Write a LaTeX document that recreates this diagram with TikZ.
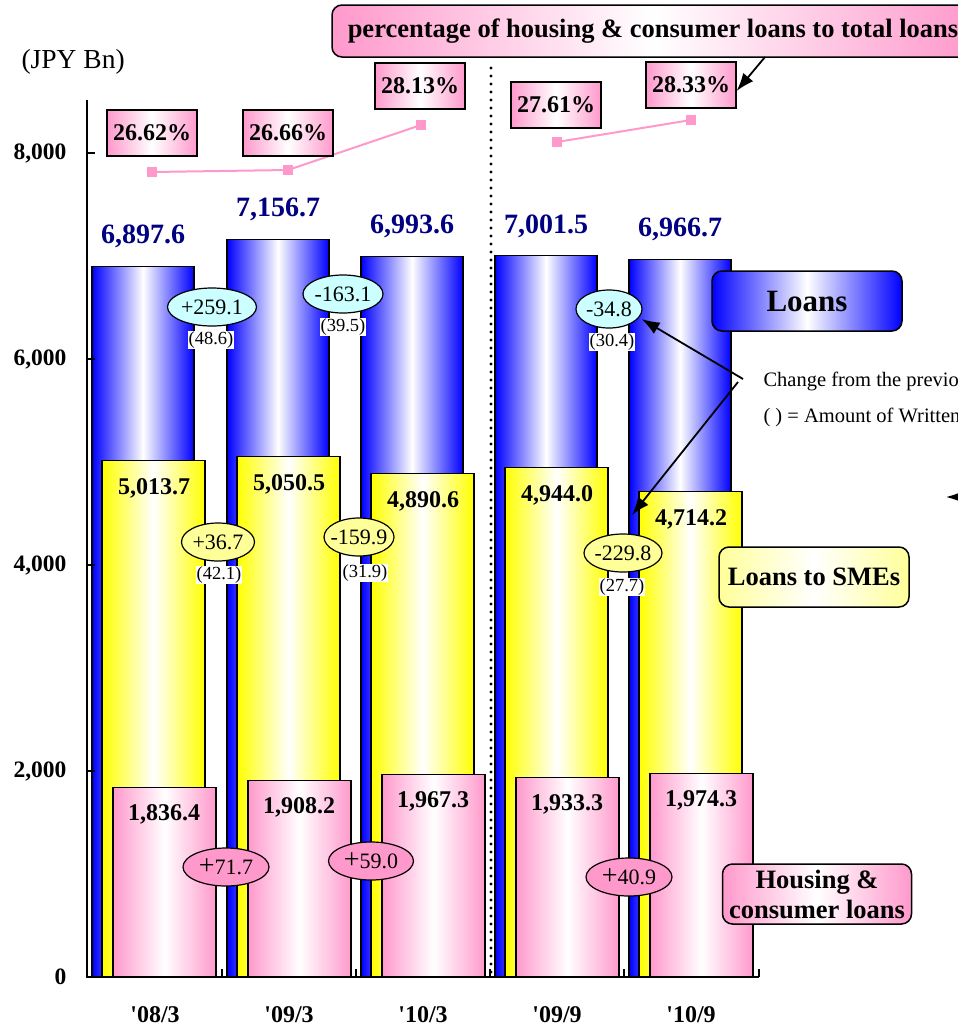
\documentclass[tikz,border=0pt]{standalone}
\usepackage{fontspec}
\setmainfont{Liberation Serif}
\usetikzlibrary{shapes.geometric,arrows.meta,calc}
\definecolor{navy}{RGB}{0,0,128}
\definecolor{pk}{RGB}{255,153,204}
\definecolor{bl}{RGB}{0,0,255}
\definecolor{yl}{RGB}{255,255,0}
\definecolor{lcyan}{RGB}{204,255,255}
\definecolor{lyel}{RGB}{255,255,153}
\newcommand{\bigplus}{{\fontsize{28}{28}\selectfont +}}
\tikzset{
  barline/.style={draw=black, line width=1.2pt},
  bluebar/.style={barline, left color=bl, right color=bl, middle color=white},
  yelbar/.style={barline, left color=yl, right color=yl, middle color=white},
  pinkbar/.style={barline, left color=pk, right color=pk, middle color=white},
  valL/.style={font=\fontsize{28}{30}\selectfont\bfseries, text=navy},
  valB/.style={font=\fontsize{24}{26}\selectfont\bfseries},
  chg/.style={ellipse, draw=black, line width=1.2pt, font=\fontsize{22}{23}\selectfont, inner sep=0pt, minimum height=38},
  chgC/.style={chg, fill=lcyan},
  chgY/.style={chg, fill=lyel},
  chgP/.style={chg, fill=pk},
  wo/.style={fill=white, inner sep=1pt, font=\fontsize{18.5}{19}\selectfont},
  pct/.style={draw=black, line width=1.2pt, left color=pk, right color=pk, middle color=white, minimum width=90, minimum height=46, font=\fontsize{24}{26}\selectfont\bfseries, inner sep=0pt},
  legend/.style={draw=black, line width=1.5pt, rounded corners=10, minimum height=60, inner sep=1pt},
  ytick/.style={font=\fontsize{23.5}{25}\selectfont\bfseries, anchor=east},
  cat/.style={font=\fontsize{24}{26}\selectfont\bfseries},
  arr/.style={line width=1.8pt, -{Latex[length=18pt,width=13pt]}},
  mk/.style={fill=pk, draw=none},
}
\begin{document}
\begin{tikzpicture}[x=1pt,y=-1pt]
\useasboundingbox (0,0) rectangle (958,1029);
\clip (0,0) rectangle (958,1029);

% bars
\foreach \c/\L/\S/\H/\tL/\tS/\tH [count=\i] in {
 154/6897.6/5013.7/1836.4/{6,897.6}/{5,013.7}/{1,836.4},
 289/7156.7/5050.5/1908.2/{7,156.7}/{5,050.5}/{1,908.2},
 423/6993.6/4890.6/1967.3/{6,993.6}/{4,890.6}/{1,967.3},
 557/7001.5/4944.0/1933.3/{7,001.5}/{4,944.0}/{1,933.3},
 691/6966.7/4714.2/1974.3/{6,966.7}/{4,714.2}/{1,974.3}}{
  \path[bluebar] ({\c-62},977) rectangle ({\c+40},{977-\L*0.103});
  \path[yelbar] ({\c-52},977) rectangle ({\c+51},{977-\S*0.103});
  \path[pinkbar] ({\c-41},977) rectangle ({\c+62},{977-\H*0.103});
  \node[valL] (lv\i) at ({\c-11},{977-\L*0.103-30}) {\tL};
  \node[valB] (sv\i) at ({\c},{977-\S*0.103+28}) {\tS};
  \node[valB] (hv\i) at ({\c+10},{977-\H*0.103+27}) {\tH};
}

% axes
\draw[line width=1.5pt] (87,100) -- (87,977) -- (759,977);
\foreach \v/\t [count=\i] in {0/0,2000/{2,000},4000/{4,000},6000/{6,000},8000/{8,000}}{
  \draw[line width=1.2pt] (87,{977-\v*0.103}) -- (95,{977-\v*0.103});
  \node[ytick] (yt\i) at (70,{977-\v*0.103}) {\t};
}
\foreach \x in {222,356,490,624,759}{
  \draw[line width=1.2pt] (\x,977) -- (\x,969);
}
\node[font=\fontsize{27.5}{29}\selectfont, anchor=west] (unit) at (18,62) {(JPY Bn)};

% category labels
\node[cat] (c1) at (155,1015) {\textquotesingle08/3};
\node[cat] (c2) at (289,1015) {\textquotesingle09/3};
\node[cat] (c3) at (423,1015) {\textquotesingle10/3};
\node[cat] (c4) at (557,1015) {\textquotesingle09/9};
\node[cat] (c5) at (691,1015) {\textquotesingle10/9};

% dotted separator
\draw[line width=3.4pt, line cap=round, dash pattern=on 0pt off 8pt] (491,68) -- (491,975);

% percentage line
\coordinate (p1) at (152,172);
\coordinate (p2) at (288,170);
\coordinate (p3) at (421,125);
\coordinate (p4) at (557,142);
\coordinate (p5) at (691,120);
\draw[pk, line width=2pt] (p1) -- (p2) -- (p3);
\draw[pk, line width=2pt] (p4) -- (p5);
\foreach \p in {p1,p2,p3,p4,p5}{
  \fill[mk] ($(\p)+(-5,-5)$) rectangle ($(\p)+(5,5)$);
}

% percentage boxes
\node[pct] (q1) at (152,133) {26.62\%};
\node[pct] (q2) at (288,133) {26.66\%};
\node[pct] (q3) at (420,86) {28.13\%};
\node[pct] (q4) at (556,105) {27.61\%};
\node[pct] (q5) at (691,85) {28.33\%};

% change ellipses
\node[chgC, minimum width=89] (e1) at (212,307) {\makebox[0pt]{+259.1}};
\node[chgC, minimum width=80] (e2) at (343,294) {\makebox[0pt]{-163.1}};
\node[chgC, minimum width=66] (e3) at (609,309) {\makebox[0pt]{-34.8}};
\node[wo] (w1) at (211,340) {(48.6)};
\node[wo] (w2) at (343,327) {(39.5)};
\node[wo] (w3) at (612,342) {(30.4)};

\node[chgY, minimum width=73] (f1) at (218,542) {\makebox[0pt]{+36.7}};
\node[chgY, minimum width=70] (f2) at (359,537) {\makebox[0pt]{-159.9}};
\node[chgY, minimum width=78] (f3) at (623,553) {\makebox[0pt]{-229.8}};
\node[wo] (x1) at (219,575) {(42.1)};
\node[wo] (x2) at (365,573) {(31.9)};
\node[wo] (x3) at (622,587) {(27.7)};

\node[chgP, minimum width=86] (g1) at (226,867) {\makebox[0pt]{\bigplus71.7}};
\node[chgP, minimum width=85] (g2) at (371,861) {\makebox[0pt]{\bigplus59.0}};
\node[chgP, minimum width=86] (g3) at (629,877) {\makebox[0pt]{\bigplus40.9}};

% legends
\node[legend, left color=pk, right color=pk, middle color=white, minimum width=642, minimum height=52, font=\fontsize{26.5}{28}\selectfont\bfseries] (lgP) at (653,31) {percentage of housing \& consumer loans to total loans};
\node[legend, left color=bl, right color=bl, middle color=white, minimum width=190, font=\fontsize{31}{33}\selectfont\bfseries] (lgL) at (807,301) {Loans};
\node[legend, left color=lyel, right color=lyel, middle color=white, minimum width=190, font=\fontsize{26.5}{28}\selectfont\bfseries] (lgS) at (814,577) {Loans to SMEs};
\node[legend, left color=pk, right color=pk, middle color=white, minimum width=189, align=center, font=\fontsize{26.5}{30}\selectfont\bfseries] (lgH) at (817,894) {Housing \&\\consumer loans};

% note text
\node[anchor=west, font=\fontsize{20.5}{22}\selectfont] (n1) at (760,381) {Change from the previous term};
\node[anchor=west, font=\fontsize{20.5}{22}\selectfont] (n2) at (760,417) {( ) = Amount of Written-off};

% arrows
\coordinate (a0) at (765,57);
\coordinate (a1) at (743,379);
\coordinate (a2) at (738,382);
\coordinate (a3) at (632,515);
\coordinate (a4) at (966,497);
\coordinate (a5) at (946,497);
\draw[arr] (a0) -- (q5.east |- 0,91);
\draw[arr] (a1) -- ($(e3.east)+(-1,10)$);
\draw[arr] (a2) -- (a3);
\draw[arr] (a4) -- (a5);
\end{tikzpicture}
\end{document}
